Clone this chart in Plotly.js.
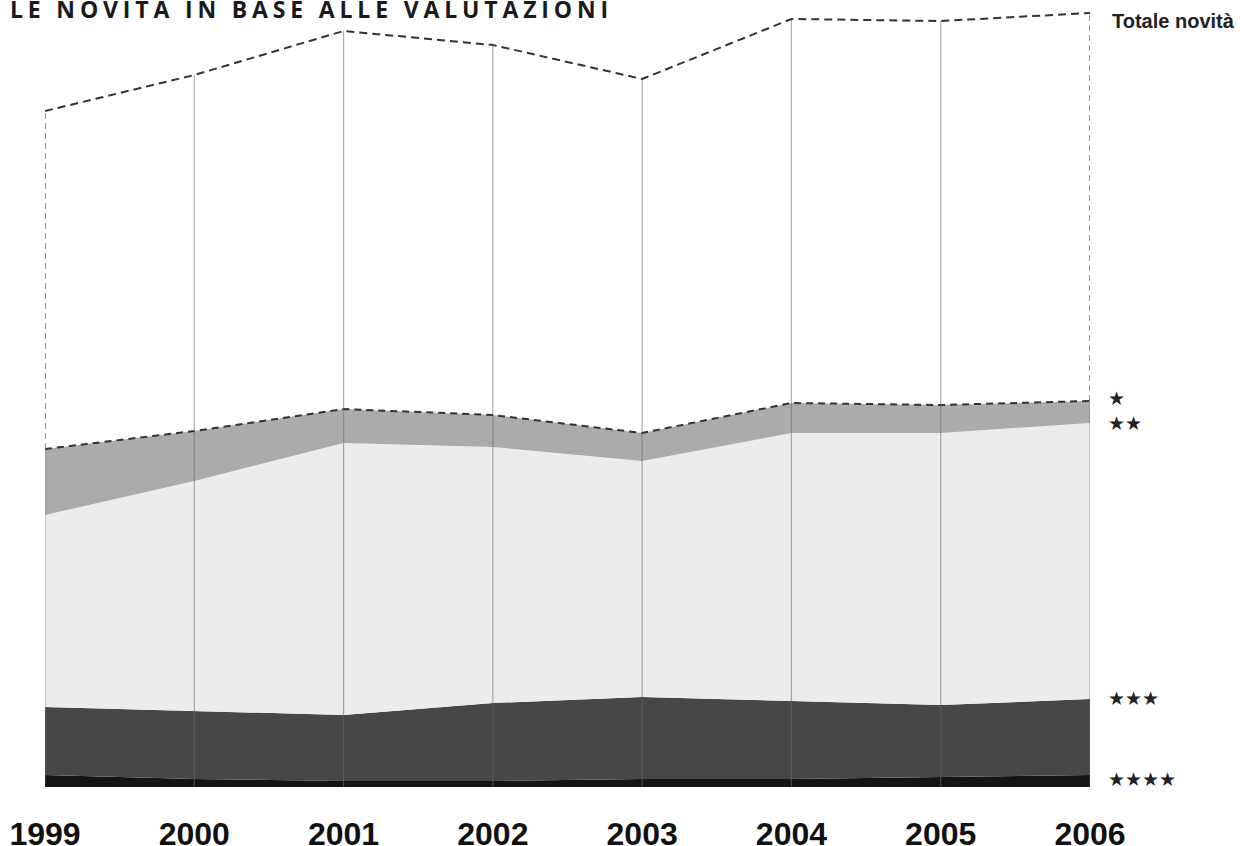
<!DOCTYPE html>
<html><head><meta charset="utf-8">
<script src="https://cdn.plot.ly/plotly-3.0.1.min.js"></script>
<style>html,body{margin:0;padding:0;background:#fff}#chart{width:1240px;height:846px}</style>
</head><body><div id="chart"></div>
<script>
const years = [1999, 2000, 2001, 2002, 2003, 2004, 2005, 2006];
const yearLabels = ['1999', '2000', '2001', '2002', '2003', '2004', '2005', '2006'];
const fourStars = [6, 4, 3, 3, 4, 4, 5, 6];
const threeStars = [34, 34, 33, 39, 41, 39, 36, 38];
const twoStars = [96, 115, 136, 128, 118, 134, 136, 138];
const oneStar = [33, 25, 17, 16, 14, 15, 14, 11];
const totalNovita = [338, 356, 378, 371, 354, 384, 383, 387];
const seriesNames = ['★★★★', '★★★', '★★', '★'];
const totalName = 'Totale novità';
const titleText = 'LE NOVITÀ IN BASE ALLE VALUTAZIONI';

const seriesData = [fourStars, threeStars, twoStars, oneStar];
const fills = ['#141414', '#474747', '#ececec', '#ababab'];
const cum = [];
let run = years.map(() => 0);
seriesData.forEach(s => { run = run.map((v, i) => v + s[i]); cum.push(run.slice()); });
const last = years.length - 1;

const traces = seriesData.map((s, k) => ({
  x: years, y: s, name: seriesNames[k], type: 'scatter', mode: 'lines',
  stackgroup: 'one', fillcolor: fills[k],
  line: k === 3 ? {color: '#333', width: 2, dash: '7px,5px'} : {width: 0, color: fills[k]},
  hoverinfo: 'skip', showlegend: false
}));

// vertical year lines
const gx = [], gy = [];
years.forEach((yr, i) => { gx.push(yr, yr, null); gy.push(0, (i === 0 || i === last) ? cum[3][i] : totalNovita[i], null); });
traces.push({x: gx, y: gy, type: 'scatter', mode: 'lines', line: {color: 'rgba(105,105,105,0.55)', width: 1.2}, hoverinfo: 'skip', showlegend: false});
[0, last].forEach(i => traces.push({x: [years[i], years[i]], y: [cum[3][i], totalNovita[i]], type: 'scatter', mode: 'lines', line: {color: '#777', width: 1.5, dash: '6px,4px'}, hoverinfo: 'skip', showlegend: false}));
traces.push({x: years, y: totalNovita, name: totalName, type: 'scatter', mode: 'lines', line: {color: '#333', width: 2, dash: '8px,5px'}, hoverinfo: 'skip', showlegend: false});

const starFont = {family: 'DejaVu Sans', size: 19, color: '#222'};
const annotations = [
  {xref: 'paper', x: 1, xanchor: 'left', xshift: 20, yref: 'y', y: totalNovita[last], yshift: -8, text: '<b>' + totalName + '</b>', showarrow: false, font: {family: 'Liberation Sans, Arial', size: 20, color: '#222'}},
  {xref: 'paper', x: 1, xanchor: 'left', xshift: 16, yref: 'y', y: cum[3][last], yshift: 3, text: seriesNames[3], showarrow: false, font: starFont},
  {xref: 'paper', x: 1, xanchor: 'left', xshift: 16, yref: 'y', y: cum[2][last], yshift: 0, text: seriesNames[2], showarrow: false, font: starFont},
  {xref: 'paper', x: 1, xanchor: 'left', xshift: 16, yref: 'y', y: cum[1][last], yshift: 1, text: seriesNames[1], showarrow: false, font: starFont},
  {xref: 'paper', x: 1, xanchor: 'left', xshift: 16, yref: 'y', y: cum[0][last], yshift: -4, text: seriesNames[0], showarrow: false, font: starFont},
  {xref: 'paper', x: 0, xanchor: 'left', yref: 'paper', y: 1, yanchor: 'middle', yshift: -9, text: titleText, showarrow: false, font: {family: 'Open Sans', size: 23, weight: 700, color: '#1a1a1a'}}
];

const layout = {
  width: 1240, height: 846,
  margin: {l: 45, r: 150, t: 0, b: 59},
  paper_bgcolor: '#fff', plot_bgcolor: '#fff',
  xaxis: {range: [1999, 2006], tickvals: years, ticktext: yearLabels, showgrid: false, zeroline: false, showline: false, ticks: '', ticklabelstandoff: 25,
    tickfont: {family: 'Liberation Sans, Arial', size: 32, weight: 'bold', color: '#111'}},
  yaxis: {range: [0, 393.5], visible: false, fixedrange: true},
  annotations: annotations,
  showlegend: false
};

Plotly.newPlot('chart', traces, layout, {staticPlot: true}).then(() => {
  document.querySelectorAll('.annotation-text').forEach(t => {
    if (t.textContent.indexOf('VALUTAZIONI') >= 0) {
      const n = t.textContent.length;
      const w0 = t.getBoundingClientRect().width;
      const ls = (598 - w0) / (n - 1);
      t.setAttribute('letter-spacing', ls.toFixed(2) + 'px');
      const left = t.getBoundingClientRect().left;
      const prev = t.getAttribute('transform') || '';
      t.setAttribute('transform', 'translate(' + (10 - left).toFixed(2) + ',0) ' + prev);
    }
  });
});
</script>
</body></html>
